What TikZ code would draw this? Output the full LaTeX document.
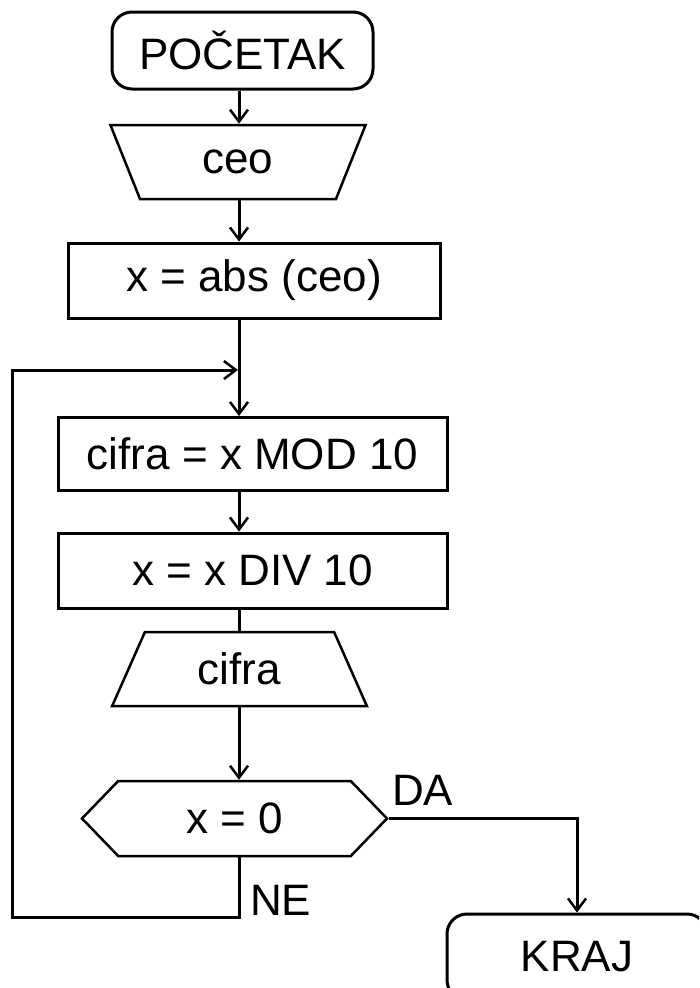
\documentclass[tikz,border=0pt]{standalone}
\usepackage{fontspec}
\setmainfont{Liberation Sans}
\usepackage{tikz}
\usetikzlibrary{shapes.geometric,shapes.symbols,arrows.meta,positioning,calc}
\newcommand{\chartfont}{\fontsize{44}{50}\selectfont}

\begin{document}
\begin{tikzpicture}[
      x=1pt, y=-1pt,
      terminal/.style={rectangle, draw=black, line width=3pt, rounded corners=20pt,
                       minimum width=261pt, minimum height=77pt, inner sep=0pt},
      procbox/.style={rectangle, draw=black, line width=3pt,
                      minimum height=75pt, inner sep=0pt},
      iobox/.style={trapezium, draw=black, line width=2.5pt, trapezium stretches=true,
                    trapezium angle=66, minimum width=256pt, minimum height=74pt,
                    inner sep=0pt},
      decision/.style={signal, signal to=west and east, signal pointer angle=92,
                       draw=black, line width=2.5pt, minimum width=305pt,
                       minimum height=75pt, inner sep=0pt},
      arrow/.style={-{Straight Barb[length=12pt,width=18pt,line width=2.5pt]}, line width=3pt},
      plain/.style={line width=3pt},
      every node/.style={font=\chartfont}
    ]
      \useasboundingbox (0,0) rectangle (699,988);
      \clip (0,0) rectangle (699,988);
      %% main column
      \coordinate (col) at (239,0);
      \node[terminal] (start) at (242.5,50.5) {PO\v{C}ETAK};
      \node[iobox, shape border rotate=180] (ceo) at (238,162) {ceo};
      \node[procbox, minimum width=372pt] (absx) at (254,280.5) {x = abs (ceo)};
      \node[procbox, minimum width=389pt, minimum height=73pt] (mod) at (252.5,454)
            {cifra = x MOD 10};
      \node[procbox, minimum width=389pt] (div) at (252.5,570.5) {x = x DIV 10};
      \node[iobox, minimum width=255pt] (cifra) at (239.5,669) {cifra};
      \node[decision] (dec) at (234.5,818.5) {x = 0};
      \node[terminal, minimum width=260pt, minimum height=86pt] (kraj) at (577,957)
            {KRAJ};
      %% branch labels
      \node[anchor=base west, inner sep=0pt] (da) at (392,805) {DA};
      \node[anchor=base west, inner sep=0pt] (ne) at (250,915) {NE};
      %% connectors
      \draw[arrow] (start.south -| col) -- (ceo.north -| col);
      \draw[arrow] (ceo.south -| col) -- (absx.north -| col);
      \draw[arrow] (absx.south -| col) -- (mod.north -| col);
      \draw[arrow] (mod.south -| col) -- (div.north -| col);
      \draw[plain] (div.south -| col) -- (cifra.north -| col);
      \draw[arrow] (cifra.south -| col) -- (dec.north -| col);
      \draw[arrow] (dec.east) -| (kraj.north);
      %% loop back
      \coordinate (loopcorner) at (12,917);
      \coordinate (join) at (238,370);
      \draw[arrow] (dec.south -| col) |- (loopcorner) |- (join);
    \end{tikzpicture}
\end{document}
